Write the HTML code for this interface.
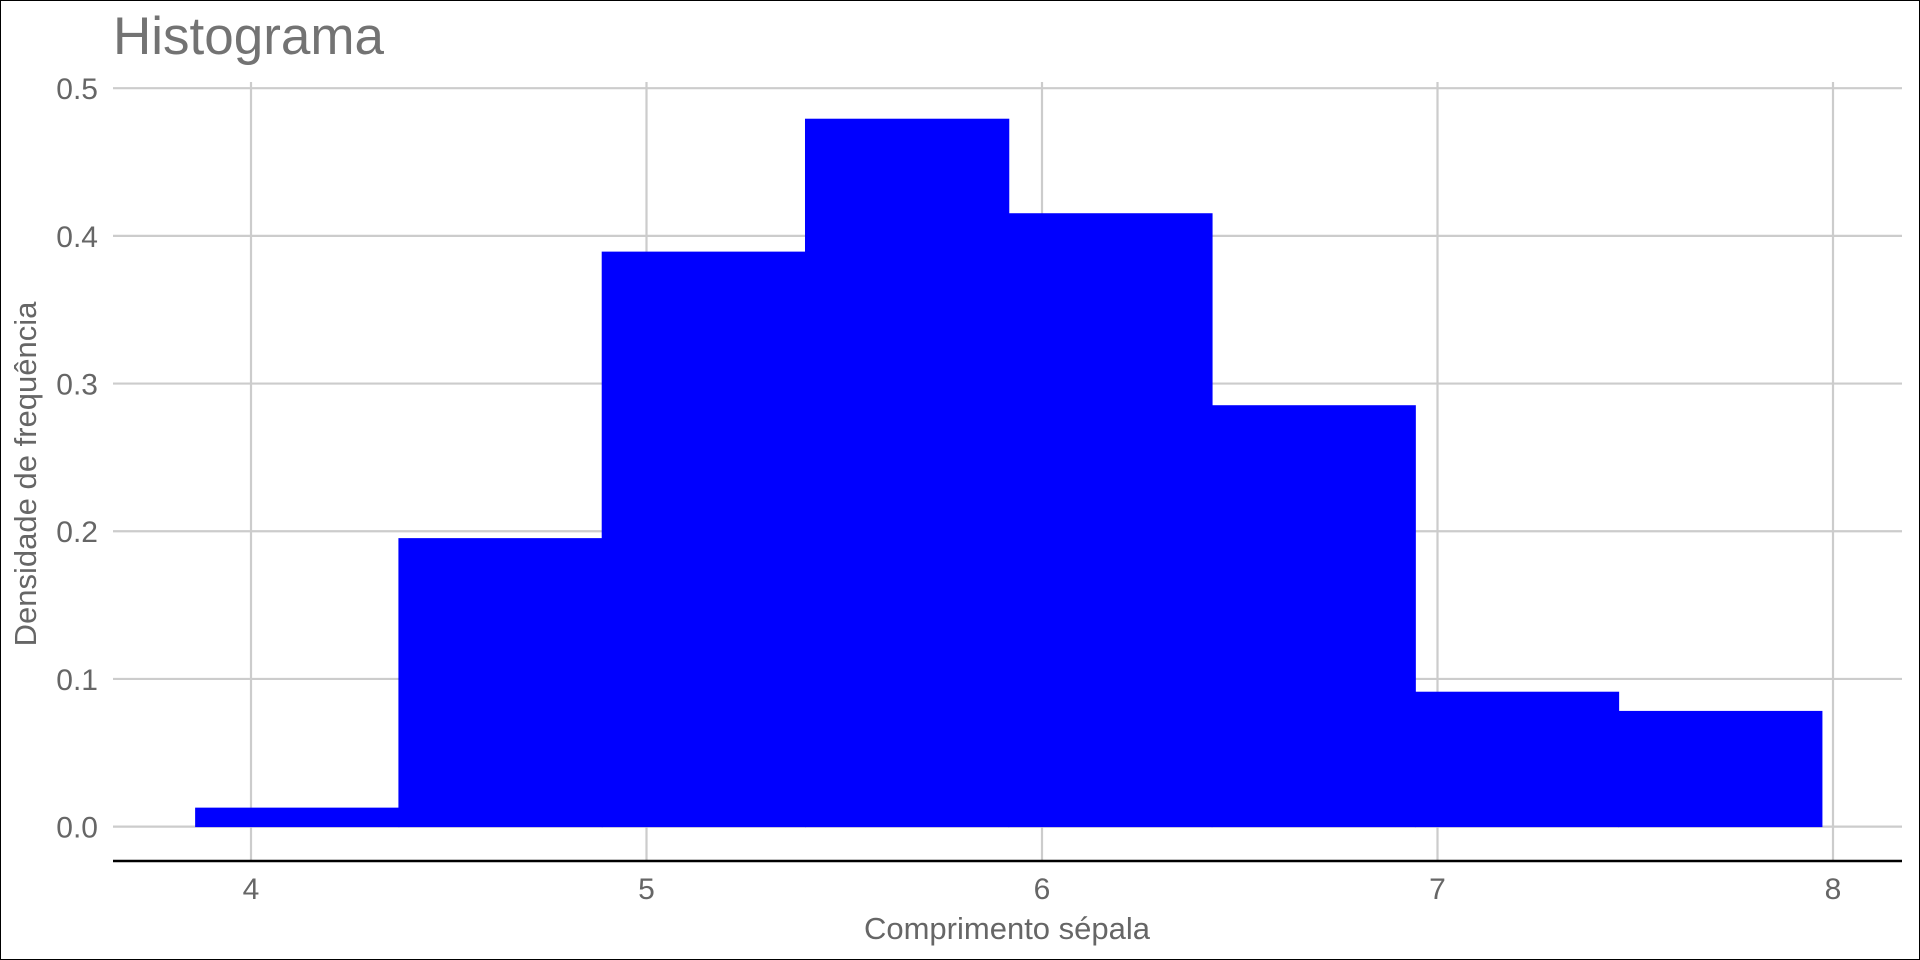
<!DOCTYPE html>
<html><head><meta charset="utf-8"><style>
html,body{margin:0;padding:0;background:#fff;}
svg{display:block;font-family:"Liberation Sans",sans-serif;}
</style></head><body>
<svg id="chart" width="1920" height="960">
<rect x="0.5" y="0.5" width="1919" height="959" fill="#fff" stroke="#000"/>
<text x="113" y="54" font-size="53" fill="#737373">Histograma</text>
<g id="grid"></g><g id="bars"></g><g id="axes"></g>
<text x="1007" y="939" font-size="31" fill="#666" text-anchor="middle">Comprimento sépala</text>
<text transform="translate(36,474) rotate(-90)" font-size="31" fill="#666" text-anchor="middle">Densidade de frequência</text>
</svg>
<script>
const binStart = 3.86;
const binWidth = 0.514;
const densities = [0.0125, 0.195, 0.389, 0.479, 0.415, 0.285, 0.091, 0.078];
const xTicks = [4, 5, 6, 7, 8];
const yTicks = [0.0, 0.1, 0.2, 0.3, 0.4, 0.5];
const yTickLabels = ["0.0", "0.1", "0.2", "0.3", "0.4", "0.5"];

const NS = "http://www.w3.org/2000/svg";
const xs = v => 251 + (v - 4) * 395.5;
const ys = v => 826.6 - v * 1476.8;
const L = 113, R = 1902, T = 82, B = 861;
function mk(tag, attrs, parent){const e=document.createElementNS(NS,tag);for(const k in attrs)e.setAttribute(k,attrs[k]);parent.appendChild(e);return e;}
const grid=document.getElementById('grid'), bars=document.getElementById('bars'), axes=document.getElementById('axes');
yTicks.forEach((t,i)=>{
  const l=mk('line',{x1:L,x2:R,y1:ys(t),y2:ys(t),stroke:'#cccccc','stroke-width':2.2},grid);
  
  
  const tx=mk('text',{x:98,y:ys(t)+11,'font-size':30,fill:'#666','text-anchor':'end'},axes);
  tx.textContent=yTickLabels[i];
  
  
});
xTicks.forEach(t=>{
  const l=mk('line',{x1:xs(t),x2:xs(t),y1:T,y2:B,stroke:'#cccccc','stroke-width':2.2},grid);
  
  
  const tx=mk('text',{x:xs(t),y:899,'font-size':30,fill:'#666','text-anchor':'middle'},axes);
  tx.textContent=String(t);
  
  
});
densities.forEach((d,i)=>{
  const x0=xs(binStart+i*binWidth), x1=xs(binStart+(i+1)*binWidth);
  const r=mk('rect',{x:x0,y:ys(d),width:x1-x0,height:ys(0)-ys(d),fill:'#0000ff',stroke:'#0000ff','stroke-width':1},bars);
  
  
});
const ax=mk('line',{x1:L,x2:R,y1:B,y2:B,stroke:'#000','stroke-width':2.5},axes);


</script>
</body></html>
